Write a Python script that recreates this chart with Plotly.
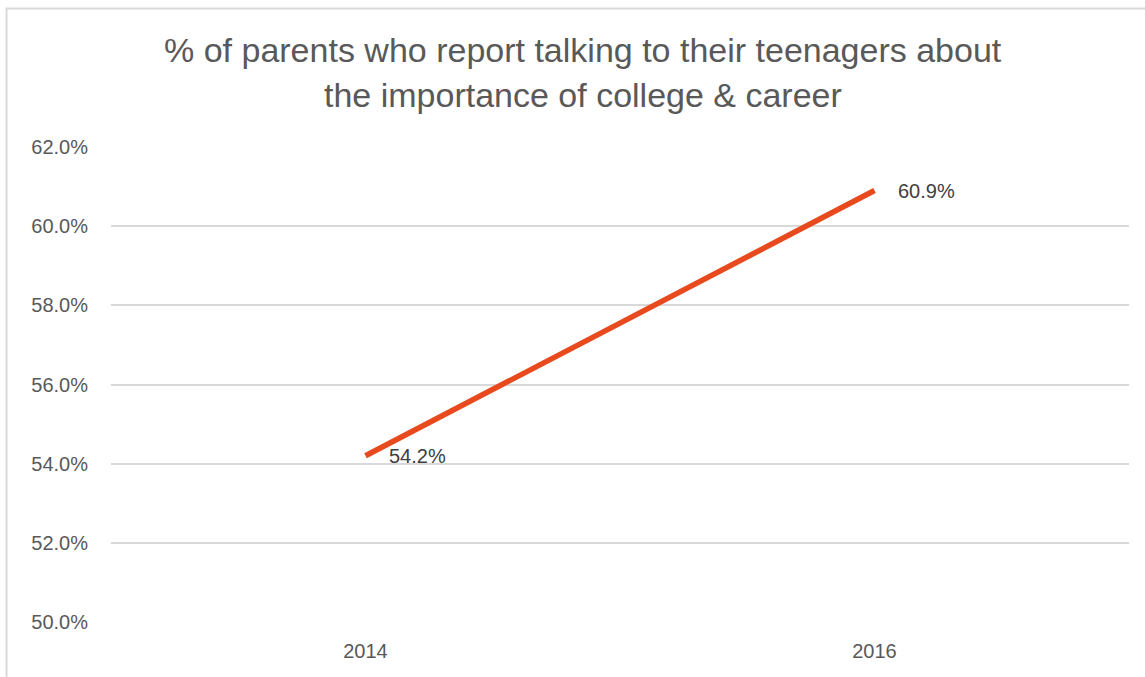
import plotly.graph_objects as go

years = ["2014", "2016"]
values = [54.2, 60.9]
labels = ["54.2%", "60.9%"]
y_ticks = [50, 52, 54, 56, 58, 60, 62]
y_tick_text = ["50.0%", "52.0%", "54.0%", "56.0%", "58.0%", "60.0%", "62.0%"]
title_lines = ["% of parents who report talking to their teenagers about",
               "the importance of college & career"]

FONT = "Liberation Sans, Arial, sans-serif"
L, R, T, B = 111, 1129, 147, 622
PW, PH = R - L, B - T

def px(x):
    return (x - L) / PW

def py(y):
    return (B - y) / PH

fig = go.Figure()
fig.add_trace(go.Scatter(
    x=years, y=values, mode="lines",
    line=dict(color="#E8491D", width=5.5),
    hoverinfo="skip", showlegend=False,
))

for i, (y, t) in enumerate(zip(values, labels)):
    fig.add_annotation(x=i, y=y, text=t, showarrow=False, xanchor="left",
                       yanchor="middle", xshift=21,
                       font=dict(family=FONT, size=20, color="#404040"))

for line, yy in zip(title_lines, [50, 95]):
    fig.add_annotation(x=px(583), y=py(yy), xref="paper", yref="paper",
                       text=line, showarrow=False, xanchor="center", yanchor="middle",
                       font=dict(family=FONT, size=34, color="#595959"))

fig.add_shape(type="rect", xref="paper", yref="paper",
              x0=px(6.5), x1=1.2, y0=-0.3, y1=py(8.5),
              line=dict(color="#D9D9D9", width=2), fillcolor="rgba(0,0,0,0)", layer="below")

fig.update_layout(
    width=1145, height=677,
    margin=dict(l=L, r=1145 - R, t=T, b=677 - B),
    paper_bgcolor="white", plot_bgcolor="white",
    font=dict(family=FONT, color="#595959"),
)
fig.update_xaxes(type="category", range=[-0.5, 1.5], showgrid=False, showline=False,
                 zeroline=False, ticks="", ticklabelstandoff=15,
                 tickfont=dict(family=FONT, size=20, color="#595959"))
fig.update_yaxes(range=[50, 62], tickvals=y_ticks, ticktext=y_tick_text,
                 showgrid=True, gridcolor="#D9D9D9", gridwidth=1.5, zeroline=False,
                 showline=False, ticks="", ticklabelstandoff=22,
                 tickfont=dict(family=FONT, size=20, color="#595959"))

fig.write_html("out.html", config={"displayModeBar": False})

with open("out.html", encoding="utf-8") as f:
    html = f.read()
html = html.replace("<head>", "<head><style>html,body{margin:0;padding:0;overflow:hidden;}</style>", 1)
with open("out.html", "w", encoding="utf-8") as f:
    f.write(html)
